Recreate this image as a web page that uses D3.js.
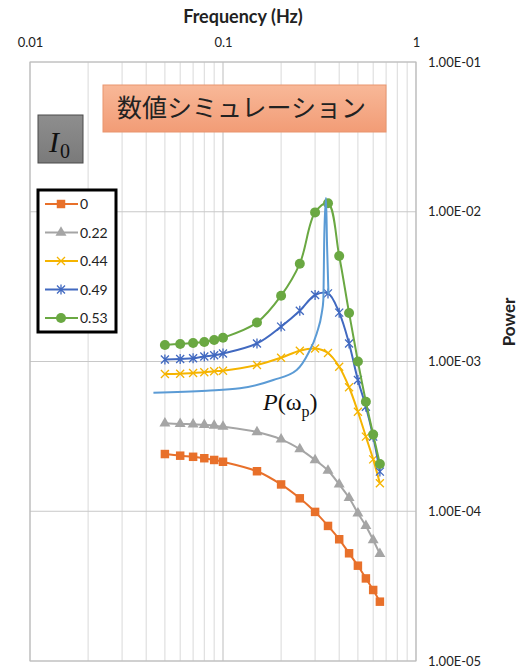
<!doctype html>
<html lang="ja">
<head>
	<meta charset="UTF-8">
	<title>d3 Power spectrum</title>
	<style>
		body { margin: 0; background: #fff; }
		svg { display: block; font-family: Lato, 'Open Sans', sans-serif; }
	</style>
</head>
<body>
	<script src="https://cdn.jsdelivr.net/npm/d3@7"></script>
	<script>
		// data
		var freq = [0.05, 0.06, 0.07, 0.08, 0.09, 0.1, 0.15, 0.2, 0.25, 0.3, 0.35, 0.4, 0.45, 0.5, 0.55, 0.6, 0.65];
		var p0   = [2.41e-4, 2.35e-4, 2.31e-4, 2.26e-4, 2.20e-4, 2.14e-4, 1.85e-4, 1.51e-4, 1.22e-4, 9.9e-5, 7.98e-5, 6.5e-5, 5.24e-5, 4.33e-5, 3.56e-5, 2.98e-5, 2.49e-5];
		var p022 = [3.87e-4, 3.83e-4, 3.81e-4, 3.77e-4, 3.73e-4, 3.67e-4, 3.38e-4, 3.02e-4, 2.60e-4, 2.20e-4, 1.87e-4, 1.51e-4, 1.23e-4, 9.7e-5, 7.98e-5, 6.43e-5, 5.19e-5];
		var p044 = [8.26e-4, 8.29e-4, 8.38e-4, 8.47e-4, 8.60e-4, 8.68e-4, 9.48e-4, 1.06e-3, 1.18e-3, 1.22e-3, 1.14e-3, 9.23e-4, 6.73e-4, 4.62e-4, 3.15e-4, 2.22e-4, 1.54e-4];
		var p049 = [1.03e-3, 1.04e-3, 1.05e-3, 1.08e-3, 1.10e-3, 1.13e-3, 1.32e-3, 1.71e-3, 2.18e-3, 2.78e-3, 2.85e-3, 2.12e-3, 1.32e-3, 7.52e-4, 4.99e-4, 3.15e-4, 1.84e-4];
		var p053 = [1.29e-3, 1.31e-3, 1.33e-3, 1.35e-3, 1.39e-3, 1.44e-3, 1.82e-3, 2.75e-3, 4.50e-3, 9.9e-3, 1.14e-2, 5.06e-3, 2.11e-3, 1.0e-3, 5.39e-4, 3.25e-4, 2.07e-4];

		// P(omega_p) curve
		var pwFreq = [0.0436, 0.0823, 0.1225, 0.1823, 0.2409, 0.2767, 0.3059, 0.3247, 0.3310, 0.3349, 0.3418, 0.346, 0.352];
		var pwVal  = [6.19e-4, 6.38e-4, 6.62e-4, 7.52e-4, 8.77e-4, 1.135e-3, 1.54e-3, 2.10e-3, 2.57e-3, 6.99e-3, 1.24e-2, 6.0e-3, 2.8e-3];

		var seriesNames = ['0', '0.22', '0.44', '0.49', '0.53'];
		var xTicks = [0.01, 0.1, 1];
		var yTicks = [1e-1, 1e-2, 1e-3, 1e-4, 1e-5];

		var series = [
			{ name: seriesNames[0], values: p0,   color: '#E8702A', marker: 'square' },
			{ name: seriesNames[1], values: p022, color: '#A5A5A5', marker: 'triangle' },
			{ name: seriesNames[2], values: p044, color: '#F5B400', marker: 'x' },
			{ name: seriesNames[3], values: p049, color: '#4169C0', marker: 'star' },
			{ name: seriesNames[4], values: p053, color: '#6AA842', marker: 'circle' }
		];

		var w = 520, h = 668,
			plotL = 30, plotR = 416, plotT = 62, plotB = 661;

		var x = d3.scaleLog().domain([0.01, 1]).range([plotL, plotR]);
		var y = d3.scaleLog().domain([1e-5, 1e-1]).range([plotB, plotT]);

		var svg = d3.select('body')
			.append('svg')
			.attr('width', w)
			.attr('height', h);

		// grid
		var minor = [];
		[0.01, 0.1].forEach(function(d) {
			for (var k = 2; k <= 9; k++) minor.push(d * k);
		});
		svg.append('g').selectAll('line.minor')
			.data(minor)
			.enter().append('line')
			.attr('x1', function(d) { return x(d); })
			.attr('x2', function(d) { return x(d); })
			.attr('y1', plotT).attr('y2', plotB)
			.attr('stroke', '#d9d9d9').attr('stroke-width', 1);

		svg.append('g').selectAll('line.hmajor')
			.data(yTicks)
			.enter().append('line')
			.attr('x1', plotL).attr('x2', plotR)
			.attr('y1', function(d) { return y(d); })
			.attr('y2', function(d) { return y(d); })
			.attr('stroke', '#c8c8c8').attr('stroke-width', 1);

		svg.append('g').selectAll('line.vmajor')
			.data(xTicks)
			.enter().append('line')
			.attr('x1', function(d) { return x(d); })
			.attr('x2', function(d) { return x(d); })
			.attr('y1', plotT).attr('y2', plotB)
			.attr('stroke', '#bdbdbd').attr('stroke-width', 1);

		// axes
		var xAxis = d3.axisTop(x)
			.tickValues(xTicks)
			.tickSize(0)
			.tickPadding(15)
			.tickFormat(function(d) { return String(d); });
		var gx = svg.append('g')
			.attr('transform', 'translate(0,' + plotT + ')')
			.call(xAxis);
		gx.select('.domain').remove();
		gx.selectAll('text').attr('font-size', 13).attr('font-family', 'Lato, sans-serif').attr('fill', '#222');

		var yAxis = d3.axisRight(y)
			.tickValues(yTicks)
			.tickSize(0)
			.tickPadding(12)
			.tickFormat(function(d) {
				var e = -Math.round(Math.log10(d));
				return '1.00E-' + (e < 10 ? '0' : '') + e;
			});
		var gy = svg.append('g')
			.attr('transform', 'translate(' + plotR + ',0)')
			.call(yAxis);
		gy.select('.domain').remove();
		gy.selectAll('text').attr('font-size', 13).attr('font-family', 'Lato, sans-serif').attr('fill', '#222');

		svg.append('text')
			.attr('x', 243).attr('y', 23)
			.attr('text-anchor', 'middle')
			.attr('font-size', 18).attr('font-weight', 'bold')
			.attr('fill', '#222')
			.text('Frequency (Hz)');

		svg.append('text')
			.attr('transform', 'translate(515,322) rotate(-90)')
			.attr('text-anchor', 'middle')
			.attr('font-size', 17).attr('font-weight', 'bold')
			.attr('fill', '#222')
			.text('Power');

		// markers
		function drawMarker(g, type, color) {
			if (type === 'square') {
				g.append('path').attr('d', d3.symbol(d3.symbolSquare, 72)()).attr('fill', color);
			} else if (type === 'triangle') {
				g.append('path').attr('d', d3.symbol(d3.symbolTriangle, 52)()).attr('fill', color);
			} else if (type === 'circle') {
				g.append('circle').attr('r', 5).attr('fill', color);
			} else if (type === 'x') {
				g.append('path').attr('d', 'M-4,-4L4,4M-4,4L4,-4')
					.attr('stroke', color).attr('stroke-width', 1.3).attr('fill', 'none');
			} else if (type === 'star') {
				g.append('path').attr('d', 'M-4,-4L4,4M-4,4L4,-4M0,-5L0,5')
					.attr('stroke', color).attr('stroke-width', 1.3).attr('fill', 'none');
			}
		}

		var line = d3.line()
			.x(function(d) { return x(d[0]); })
			.y(function(d) { return y(d[1]); })
			.curve(d3.curveCatmullRom.alpha(0.5));

		series.forEach(function(s) {
			var pts = freq.map(function(f, i) { return [f, s.values[i]]; });
			svg.append('path')
				.attr('d', line(pts))
				.attr('fill', 'none')
				.attr('stroke', s.color)
				.attr('stroke-width', 2);
			svg.append('g').selectAll('g')
				.data(pts)
				.enter().append('g')
				.attr('transform', function(d) { return 'translate(' + x(d[0]) + ',' + y(d[1]) + ')'; })
				.each(function() { drawMarker(d3.select(this), s.marker, s.color); });
		});

		var pwLine = d3.line()
			.x(function(d) { return x(d[0]); })
			.y(function(d) { return y(d[1]); })
			.curve(d3.curveMonotoneX);
		svg.append('path')
			.attr('d', pwLine(pwFreq.map(function(f, i) { return [f, pwVal[i]]; })))
			.attr('fill', 'none')
			.attr('stroke', '#5B9BD5')
			.attr('stroke-width', 2);

		// plot frame
		svg.append('rect')
			.attr('x', plotL).attr('y', plotT)
			.attr('width', plotR - plotL).attr('height', plotB - plotT)
			.attr('fill', 'none').attr('stroke', '#bdbdbd');

		// P(omega_p) label
		var pl = svg.append('text')
			.attr('x', 263).attr('y', 410)
			.attr('font-family', "'Liberation Serif', 'DejaVu Serif', serif")
			.attr('font-size', 24)
			.attr('fill', '#111');
		pl.append('tspan').attr('font-style', 'italic').text('P');
		pl.append('tspan').text('(ω');
		pl.append('tspan').attr('font-size', 16).attr('dy', 7).text('p');
		pl.append('tspan').attr('dy', -7).text(')');

		// title box
		var grad = svg.append('defs').append('linearGradient')
			.attr('id', 'sal').attr('x1', 0).attr('y1', 0).attr('x2', 0).attr('y2', 1);
		grad.append('stop').attr('offset', '0%').attr('stop-color', '#F8B898');
		grad.append('stop').attr('offset', '100%').attr('stop-color', '#F29C76');

		svg.append('rect')
			.attr('x', 103).attr('y', 85).attr('width', 283).attr('height', 47)
			.attr('fill', 'url(#sal)').attr('stroke', '#E9956F').attr('stroke-width', 1);
		svg.append('text')
			.attr('x', 117).attr('y', 117)
			.attr('font-family', "'Noto Sans CJK JP', sans-serif")
			.attr('font-size', 25)
			.attr('fill', '#222')
			.text('数値シミュレーション');

		// I0 box
		var grad2 = svg.select('defs').append('linearGradient')
			.attr('id', 'gry').attr('x1', 0).attr('y1', 0).attr('x2', 0).attr('y2', 1);
		grad2.append('stop').attr('offset', '0%').attr('stop-color', '#8e8e8e');
		grad2.append('stop').attr('offset', '100%').attr('stop-color', '#7a7a7a');
		svg.append('rect')
			.attr('x', 38).attr('y', 115).attr('width', 45).attr('height', 48)
			.attr('fill', 'url(#gry)').attr('stroke', '#4a4a4a').attr('stroke-width', 1);
		var il = svg.append('text')
			.attr('x', 49).attr('y', 152)
			.attr('font-family', "'Liberation Serif', 'DejaVu Serif', serif")
			.attr('font-size', 30)
			.attr('fill', '#111');
		il.append('tspan').attr('font-style', 'italic').text('I');
		il.append('tspan').attr('font-size', 20).attr('dy', 6).attr('dx', 1).text('0');

		// legend
		var lg = svg.append('g');
		lg.append('rect')
			.attr('x', 38).attr('y', 190).attr('width', 78).attr('height', 142)
			.attr('fill', '#fff').attr('stroke', '#000').attr('stroke-width', 3);
		var legendY = d3.scalePoint().domain(seriesNames).range([204, 318]);
		series.forEach(function(s) {
			var ly = legendY(s.name);
			lg.append('line')
				.attr('x1', 45).attr('x2', 78)
				.attr('y1', ly).attr('y2', ly)
				.attr('stroke', s.color).attr('stroke-width', 2);
			drawMarker(lg.append('g').attr('transform', 'translate(61,' + ly + ')'), s.marker, s.color);
			lg.append('text')
				.attr('x', 80).attr('y', ly + 5)
				.attr('font-size', 14)
				.attr('fill', '#222')
				.text(s.name);
		});
	</script>
</body>
</html>
